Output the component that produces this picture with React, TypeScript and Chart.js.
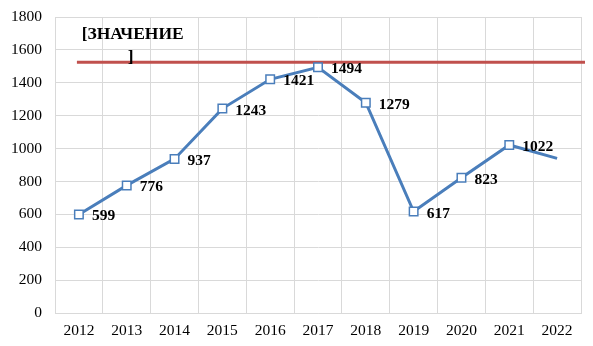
import React, { useEffect, useRef } from "react";
import { Chart, registerables } from "chart.js";

Chart.register(...registerables);

const years = ["2012", "2013", "2014", "2015", "2016", "2017", "2018", "2019", "2020", "2021", "2022"];
const values = [599, 776, 937, 1243, 1421, 1494, 1279, 617, 823, 1022, 940];
const showMarker = [true, true, true, true, true, true, true, true, true, true, false];
const targetValue = 1525;
const titleLines = ["[ЗНАЧЕНИЕ", "]"];

const BLUE = "#4A7EBB";
const RED = "#C0504D";
const GRID = "#D9D9D9";
const FONT = "'Liberation Serif', 'Times New Roman', serif";

const overlayPlugin = {
  id: "overlay",
  beforeDatasetsDraw(chart: any) {
    const { ctx, scales, chartArea } = chart;
    const x0 = scales.x.getPixelForValue(0);
    const y = scales.y.getPixelForValue(targetValue);
    ctx.save();
    ctx.strokeStyle = RED;
    ctx.lineWidth = 3;
    ctx.beginPath();
    ctx.moveTo(x0 - 2, y);
    ctx.lineTo(chartArea.right + 4, y);
    ctx.stroke();
    ctx.restore();
  },
  afterDatasetsDraw(chart: any) {
    const { ctx, scales } = chart;
    const meta = chart.getDatasetMeta(0);
    ctx.save();
    ctx.font = `bold 15.5px ${FONT}`;
    ctx.fillStyle = "#000";
    ctx.textBaseline = "middle";
    ctx.textAlign = "left";
    meta.data.forEach((pt: any, i: number) => {
      if (!showMarker[i]) return;
      ctx.fillText(String(values[i]), pt.x + 13, pt.y + 2);
    });
    ctx.font = `bold 17.5px ${FONT}`;
    ctx.textAlign = "center";
    const cx = (scales.x.getPixelForValue(0) + scales.x.getPixelForValue(2)) / 2 + 6;
    ctx.fillText(titleLines[0], cx, 34);
    ctx.fillText(titleLines[1], cx - 2, 57);
    ctx.restore();
  },
};

export default function App() {
  const ref = useRef<HTMLCanvasElement>(null);
  useEffect(() => {
    if (!ref.current) return;
    const chart = new Chart(ref.current, {
      type: "line",
      data: {
        labels: years,
        datasets: [
          {
            data: values,
            borderColor: BLUE,
            borderWidth: 3,
            pointStyle: "rect",
            pointRadius: showMarker.map((s) => (s ? 6 : 0)),
            pointBackgroundColor: "#fff",
            pointBorderColor: BLUE,
            pointBorderWidth: 1.5,
            tension: 0,
          },
        ],
      },
      options: {
        animation: false,
        responsive: false,
        maintainAspectRatio: false,
        layout: { padding: { top: 17, right: 12, left: 0, bottom: 0 } },
        plugins: { legend: { display: false }, tooltip: { enabled: false } },
        scales: {
          x: {
            offset: true,
            grid: { color: GRID, offset: true, drawTicks: false, lineWidth: 1 },
            border: { color: GRID },
            ticks: { color: "#000", font: { family: FONT, size: 15.5 }, padding: 9, maxRotation: 0 },
            afterFit: (s: any) => { s.height = 33; s.paddingLeft = 0; s.paddingRight = 0; },
          },
          y: {
            min: 0,
            max: 1800,
            grid: { color: GRID, drawTicks: false },
            border: { color: GRID },
            ticks: {
              stepSize: 200,
              color: "#000",
              font: { family: FONT, size: 15.5 },
              padding: 13,
              callback: (v: any) => String(v),
            },
            afterFit: (s: any) => { s.width = 55; s.paddingTop = 0; s.paddingBottom = 0; },
          },
        },
      },
      plugins: [overlayPlugin],
    });
    return () => chart.destroy();
  }, []);
  return (
    <div style={{ position: "fixed", left: 0, top: 0, width: 593, height: 346, background: "#fff" }}>
      <canvas ref={ref} width={593} height={346} style={{ width: 593, height: 346 }} />
    </div>
  );
}
